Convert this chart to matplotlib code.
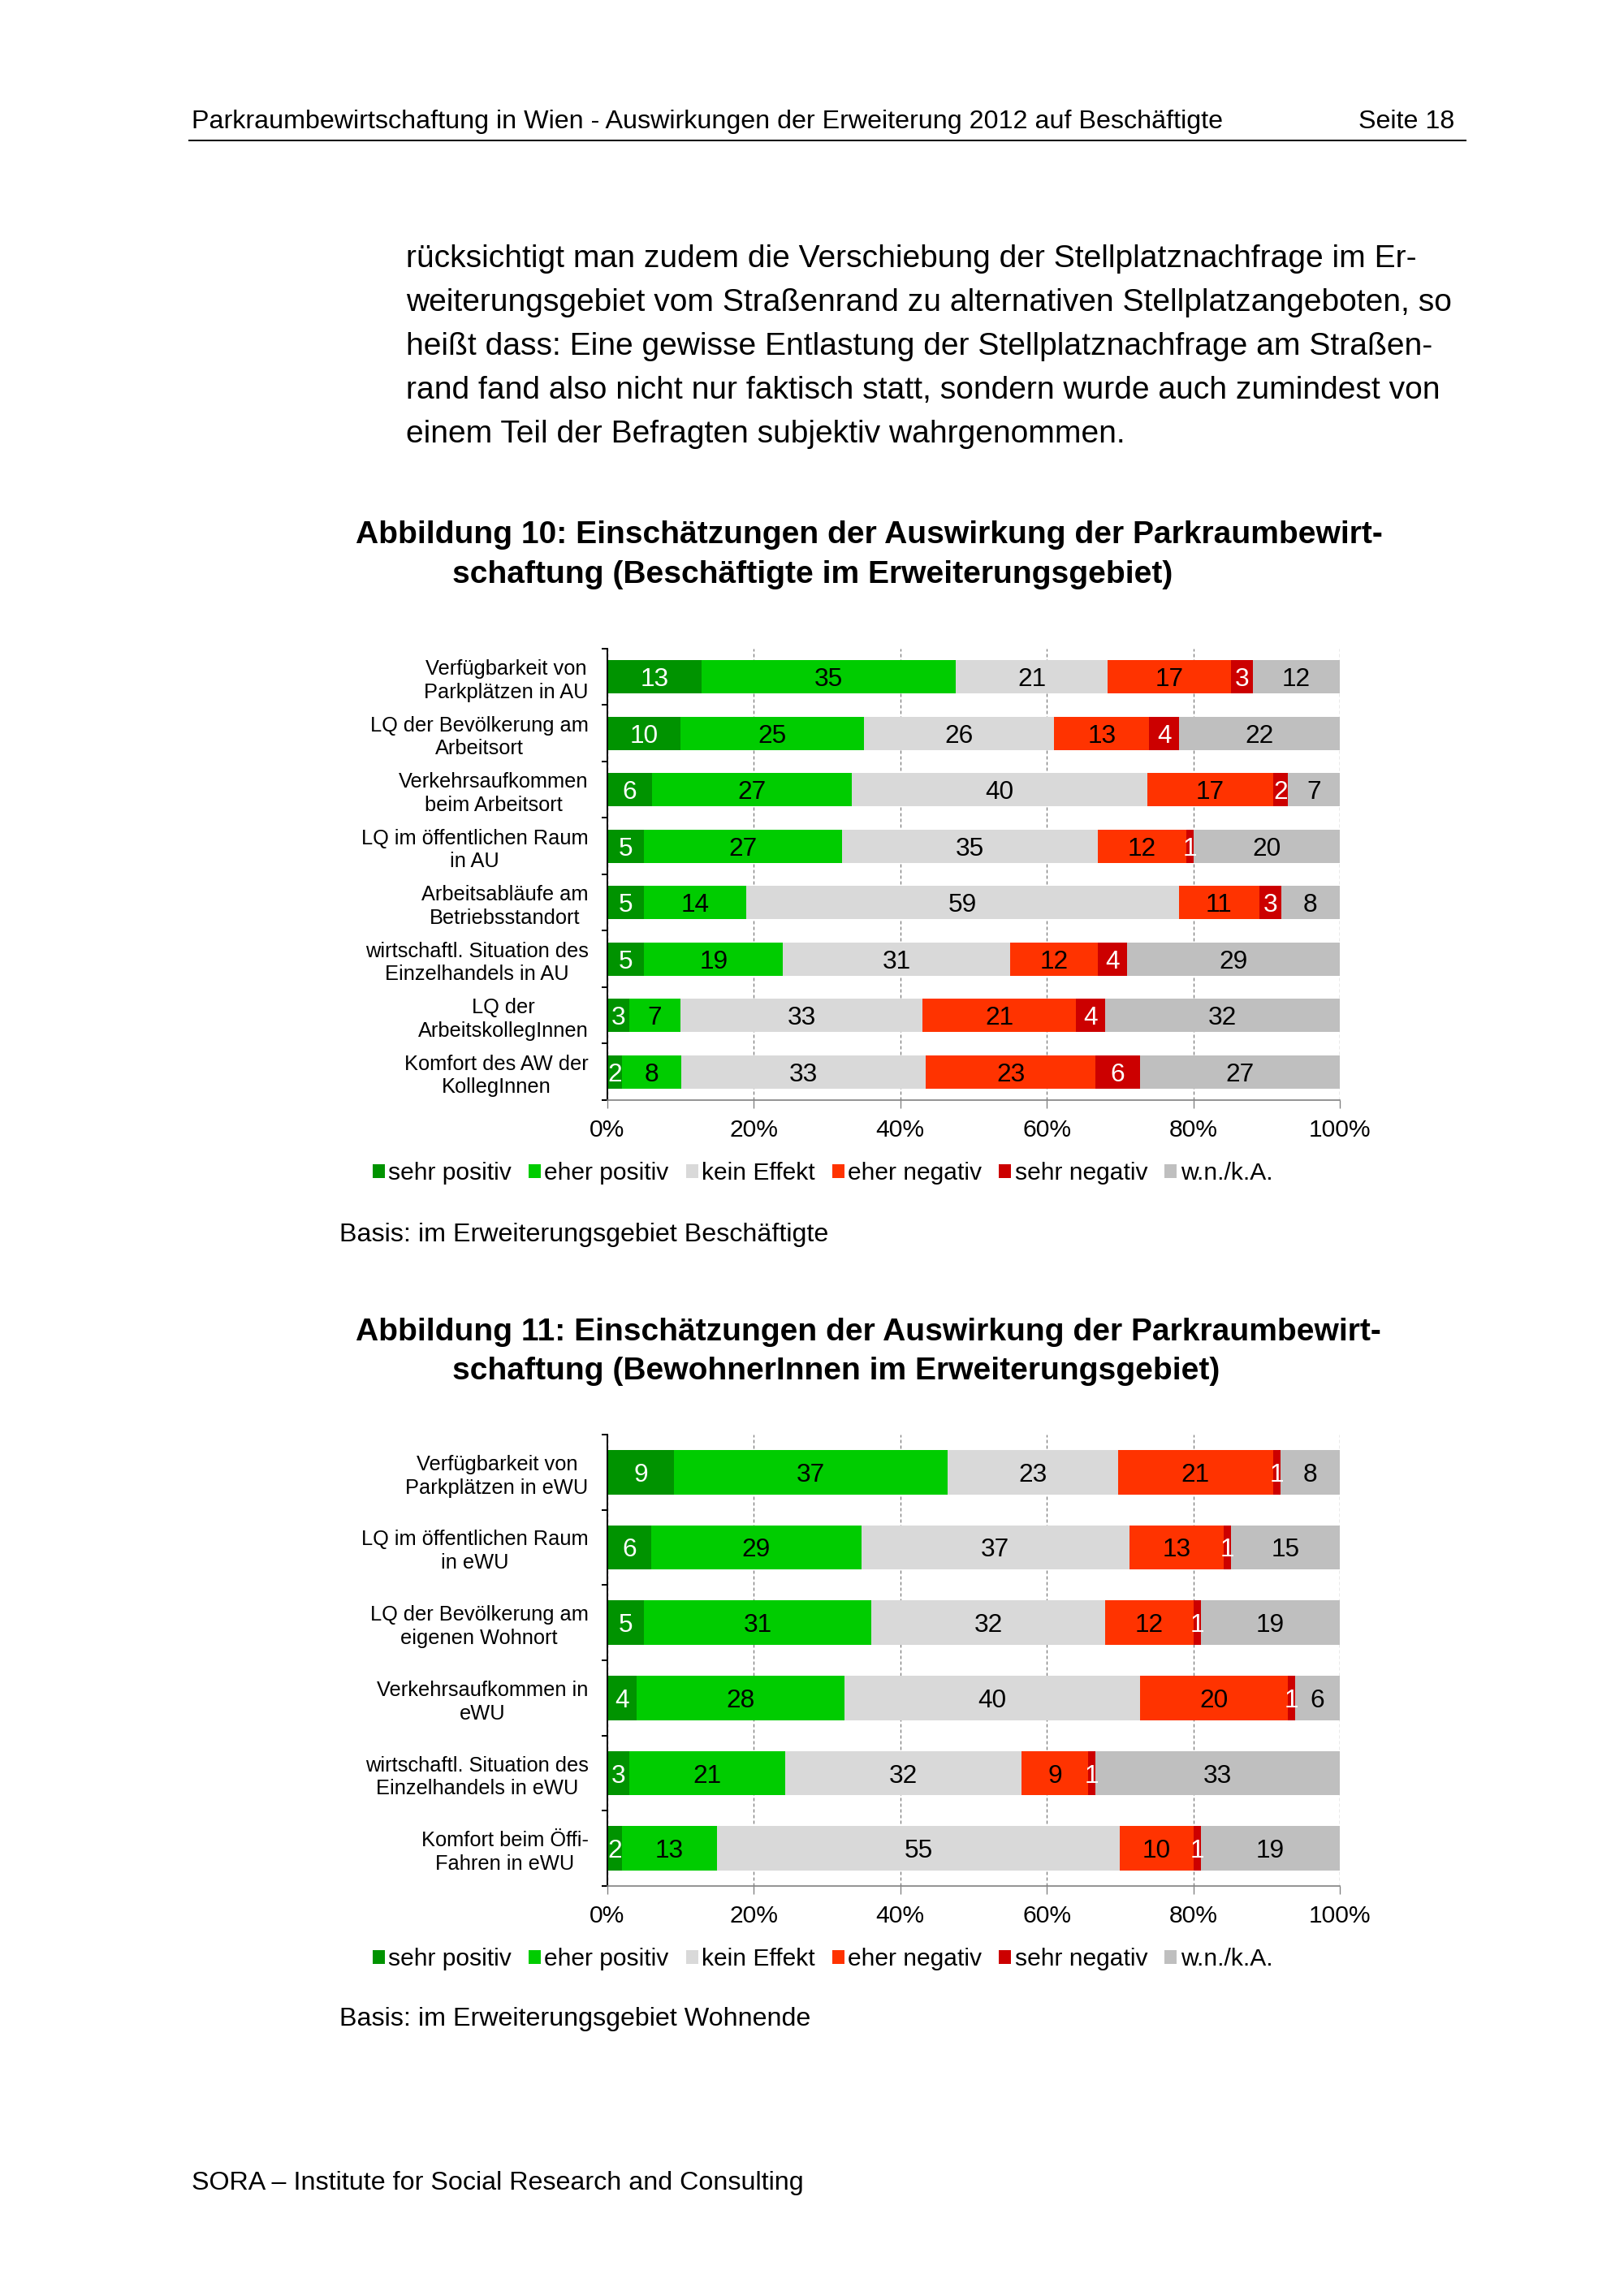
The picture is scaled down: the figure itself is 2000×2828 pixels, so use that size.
import numpy as np
import matplotlib
matplotlib.use("Agg")
import matplotlib.pyplot as plt
from matplotlib.patches import Patch
from matplotlib.lines import Line2D

plt.rcParams["font.family"] = ["Liberation Sans", "DejaVu Sans"]
plt.rcParams["lines.scale_dashes"] = False

W, H = 2000, 2828
DPI = 240

# --- data -------------------------------------------------------------
series = ["sehr positiv", "eher positiv", "kein Effekt",
          "eher negativ", "sehr negativ", "w.n./k.A."]
colors = ["#009300", "#00CC00", "#D9D9D9", "#FF3300", "#CC0000", "#BFBFBF"]
label_colors = ["white", "black", "black", "black", "white", "black"]
tick_labels = ["0%", "20%", "40%", "60%", "80%", "100%"]

# Abbildung 10: Beschäftigte im Erweiterungsgebiet
cats_10 = [
    "Verfügbarkeit von\nParkplätzen in AU",
    "LQ der Bevölkerung am\nArbeitsort",
    "Verkehrsaufkommen\nbeim Arbeitsort",
    "LQ im öffentlichen Raum\nin AU",
    "Arbeitsabläufe am\nBetriebsstandort",
    "wirtschaftl. Situation des\nEinzelhandels in AU",
    "LQ der\nArbeitskollegInnen",
    "Komfort des AW der\nKollegInnen",
]
sehr_pos_10 = [13, 10, 6, 5, 5, 5, 3, 2]
eher_pos_10 = [35, 25, 27, 27, 14, 19, 7, 8]
kein_10 = [21, 26, 40, 35, 59, 31, 33, 33]
eher_neg_10 = [17, 13, 17, 12, 11, 12, 21, 23]
sehr_neg_10 = [3, 4, 2, 1, 3, 4, 4, 6]
wnka_10 = [12, 22, 7, 20, 8, 29, 32, 27]

# Abbildung 11: BewohnerInnen im Erweiterungsgebiet
cats_11 = [
    "Verfügbarkeit von\nParkplätzen in eWU",
    "LQ im öffentlichen Raum\nin eWU",
    "LQ der Bevölkerung am\neigenen Wohnort",
    "Verkehrsaufkommen in\neWU",
    "wirtschaftl. Situation des\nEinzelhandels in eWU",
    "Komfort beim Öffi-\nFahren in eWU",
]
sehr_pos_11 = [9, 6, 5, 4, 3, 2]
eher_pos_11 = [37, 29, 31, 28, 21, 13]
kein_11 = [23, 37, 32, 40, 32, 55]
eher_neg_11 = [21, 13, 12, 20, 9, 10]
sehr_neg_11 = [1, 1, 1, 1, 1, 1]
wnka_11 = [8, 15, 19, 6, 33, 19]

fig = plt.figure(figsize=(W / DPI, H / DPI), dpi=DPI)


def px(x, y):
    """page pixel -> figure fraction"""
    return x / W, 1 - y / H


def text_at(x, y, s, **kw):
    fx, fy = px(x, y)
    kw.setdefault("va", "center")
    fig.text(fx, fy, s, **kw)


def stacked_chart(top, cats, cols):
    n = len(cats)
    left_px, right_px, height_px = 748, 1650, 556
    x0, y0 = px(left_px, top + height_px)
    ax = fig.add_axes([x0, y0, (right_px - left_px) / W, height_px / H])
    data = np.array(cols, dtype=float).T  # rows = categories
    shares = data / data.sum(axis=1, keepdims=True)
    y = np.arange(n)
    lefts = np.zeros(n)
    for j in range(len(series)):
        ax.barh(y, shares[:, j], left=lefts, height=0.59,
                color=colors[j], zorder=2, label=series[j])
        for i in range(n):
            ax.text(lefts[i] + shares[i, j] / 2, y[i], f"{int(data[i, j])}",
                    ha="center", va="center_baseline", fontsize=9.5,
                    color=label_colors[j], zorder=3)
        lefts += shares[:, j]

    ax.set_xlim(0, 1)
    ax.set_ylim(n - 0.5, -0.5)
    ax.set_xticks(np.linspace(0, 1, 6), labels=tick_labels, fontsize=9)
    ax.tick_params(axis="x", length=3, width=0.4, color="#808080", pad=4)
    ax.xaxis.grid(True, color="#808080", lw=0.4, ls=(0, (1.2, 0.9)), zorder=0)
    ax.set_axisbelow(True)

    ax.set_yticks(np.arange(-0.5, n, 1.0))
    ax.set_yticklabels([])
    ax.set_yticks(y, labels=cats, minor=True)
    ax.tick_params(axis="y", which="major", length=2, width=0.6, color="black")
    ax.tick_params(axis="y", which="minor", length=0, pad=7, labelsize=7.6)
    for lab in ax.get_yticklabels(minor=True):
        lab.set_multialignment("center")
        lab.set_linespacing(1.25)

    for side in ["top", "right"]:
        ax.spines[side].set_visible(False)
    ax.spines["left"].set_linewidth(0.6)
    ax.spines["bottom"].set_color("#808080")
    ax.spines["bottom"].set_linewidth(0.5)
    ax.spines["bottom"].set_linestyle((0, (1.0, 0.5)))
    return ax


def legend_at(y):
    handles = [Patch(facecolor=c, edgecolor="none") for c in colors]
    fig.legend(handles, series, loc="center", bbox_to_anchor=px(1013, y),
               ncol=6, frameon=False, fontsize=9, handlelength=0.5,
               handleheight=0.5, handletextpad=0.15, columnspacing=0.7,
               borderpad=0, borderaxespad=0)


# --- page header -------------------------------------------------------
text_at(236, 150, "Parkraumbewirtschaftung in Wien - Auswirkungen der "
        "Erweiterung 2012 auf Beschäftigte", fontsize=9.7)
text_at(1791, 150, "Seite 18", fontsize=9.7, ha="right")
fig.add_artist(Line2D([233 / W, 1805 / W], [1 - 173 / H] * 2,
                      color="black", lw=0.6))

body = [
    "rücksichtigt man zudem die Verschiebung der Stellplatznachfrage im Er-",
    "weiterungsgebiet vom Straßenrand zu alternativen Stellplatzangeboten, so",
    "heißt dass: Eine gewisse Entlastung der Stellplatznachfrage am Straßen-",
    "rand fand also nicht nur faktisch statt, sondern wurde auch zumindest von",
    "einem Teil der Befragten subjektiv wahrgenommen.",
]
for k, line in enumerate(body):
    text_at(500, 319 + 54 * k, line, fontsize=11.7)

# --- Abbildung 10 -----------------------------------------------------
text_at(438, 659, "Abbildung 10: Einschätzungen der Auswirkung der "
        "Parkraumbewirt-", fontsize=11.7, fontweight="bold")
text_at(557, 708, "schaftung (Beschäftigte im Erweiterungsgebiet)",
        fontsize=11.7, fontweight="bold")
stacked_chart(799, cats_10, [sehr_pos_10, eher_pos_10, kein_10,
                             eher_neg_10, sehr_neg_10, wnka_10])
legend_at(1445)
text_at(418, 1521, "Basis: im Erweiterungsgebiet Beschäftigte", fontsize=9.7)

# --- Abbildung 11 -----------------------------------------------------
text_at(438, 1641, "Abbildung 11: Einschätzungen der Auswirkung der "
        "Parkraumbewirt-", fontsize=11.7, fontweight="bold")
text_at(557, 1689, "schaftung (BewohnerInnen im Erweiterungsgebiet)",
        fontsize=11.7, fontweight="bold")
stacked_chart(1767, cats_11, [sehr_pos_11, eher_pos_11, kein_11,
                              eher_neg_11, sehr_neg_11, wnka_11])
legend_at(2413)
text_at(418, 2487, "Basis: im Erweiterungsgebiet Wohnende", fontsize=9.7)

# --- footer -----------------------------------------------------------
text_at(236, 2689, "SORA – Institute for Social Research and Consulting",
        fontsize=9.7)

fig.savefig("out.png", dpi=DPI, facecolor="white")
